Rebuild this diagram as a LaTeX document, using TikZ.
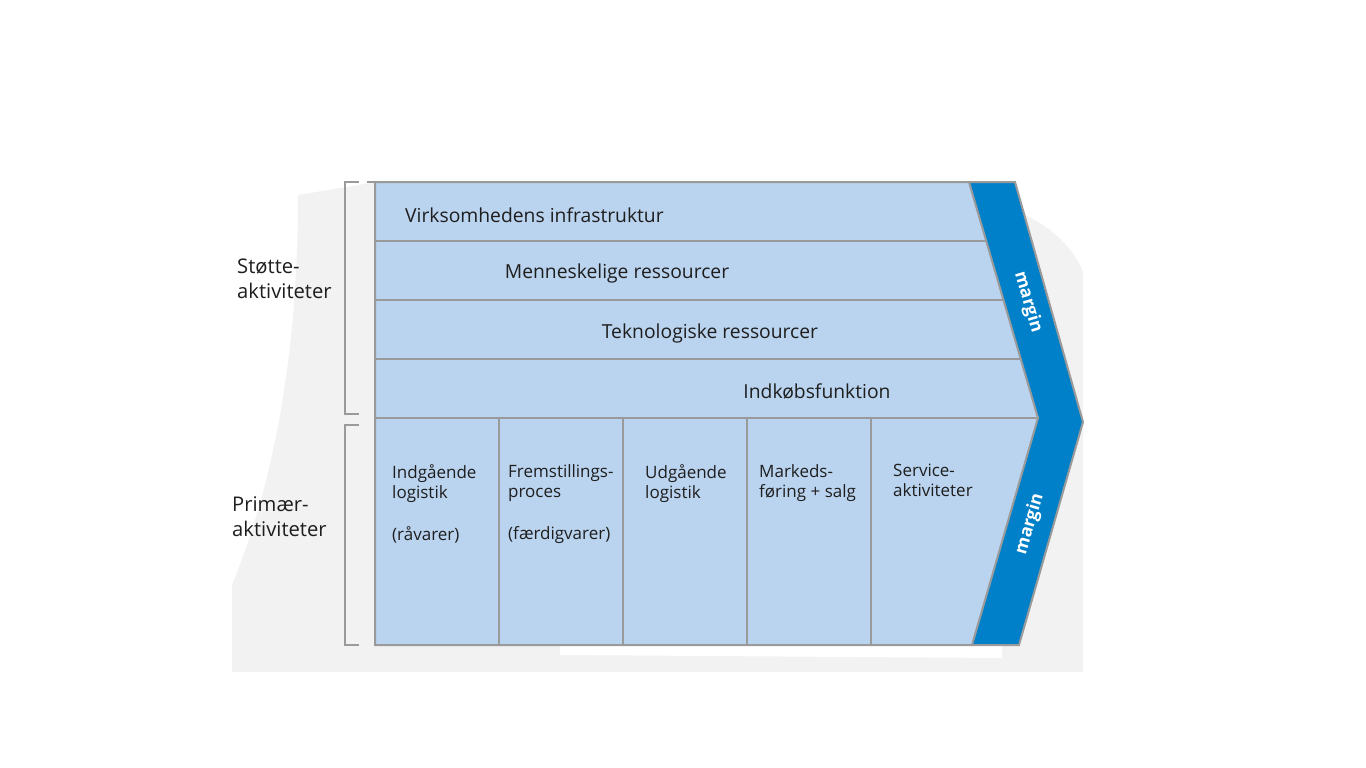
\documentclass[tikz,border=0pt]{standalone}
\usepackage{fontspec}
\setmainfont{Open Sans}
\definecolor{lightblue}{HTML}{BAD3EE}
\definecolor{darkblue}{HTML}{0080C9}
\definecolor{edgegray}{HTML}{9A9A9A}
\definecolor{paper}{HTML}{F2F2F2}
\definecolor{txt}{HTML}{1E1E1E}
\tikzset{
  edge/.style={draw=edgegray, line width=2pt, line join=miter},
  rowtext/.style={text=txt, font=\fontsize{19.3}{22}\selectfont, inner sep=0pt},
  coltext/.style={text=txt, font=\fontsize{17}{20}\selectfont, inner sep=0pt, align=left, anchor=north west},
  sidetext/.style={text=txt, font=\fontsize{20.2}{25}\selectfont, inner sep=0pt, align=left, anchor=north west},
  margintext/.style={text=white, font=\bfseries\fontsize{17.5}{20}\selectfont, inner sep=0pt},
  bracket/.style={draw=edgegray, line width=2pt}
}
\begin{document}
\begin{tikzpicture}[x=1pt,y=-1pt]
\useasboundingbox (0,0) rectangle (1366,768);
% paper background
\fill[paper] (298,195) -- (370,183) -- (1000,183) -- (1024,215)
  .. controls (1050,225) and (1075,250) .. (1083,272)
  -- (1083,672) -- (232,672) -- (232,585)
  .. controls (275,480) and (298,350) .. (298,195) -- cycle;
\fill[white] (560,646) -- (1002,645) -- (1002,658) -- (560,655) -- cycle;
% light blue body
\fill[lightblue] (375,182) -- (969,182) -- (1038,418) -- (972,645) -- (375,645) -- cycle;
% dark band
\fill[darkblue] (969,182) -- (1015,182) -- (1083,422) -- (1019,645) -- (972,645) -- (1038,418) -- cycle;
% outlines
\draw[edge] (1019,645) -- (375,645) -- (375,182) -- (1015,182) -- (1083,422) -- cycle;
\draw[edge] (969,182) -- (1038,418) -- (972,645);
\draw[edge] (367,182) -- (375,182);
\draw[edge] (375,241) -- (986.3,241);
\draw[edge] (375,300) -- (1003.5,300);
\draw[edge] (375,359) -- (1020.8,359);
\draw[edge] (375,418) -- (1038,418);
\foreach \x in {499,623,747,871} \draw[edge] (\x,418) -- (\x,645);
% brackets
\draw[bracket] (359,182) -- (345,182) -- (345,414) -- (359,414);
\draw[bracket] (359,425) -- (345,425) -- (345,645) -- (359,645);
% row texts
\node[rowtext, anchor=base west] (infra) at (405,222) {Virksomhedens infrastruktur};
\node[rowtext, anchor=base] (hr) at (617,278) {Menneskelige ressourcer};
\node[rowtext, anchor=base] (tech) at (710,338) {Teknologiske ressourcer};
\node[rowtext, anchor=base] (proc) at (817,398) {Indkøbsfunktion};
% column texts
\node[coltext] (c1) at (392,464) {Indgående\\logistik\\[22pt](råvarer)};
\node[coltext] (c2) at (508,464) {Fremstillings-\\proces\\[22pt](færdigvarer)};
\node[coltext] (c3) at (645,464) {Udgående\\logistik};
\node[coltext] (c4) at (759,464) {Markeds-\\føring + salg};
\node[coltext] (c5) at (893,464) {Service-\\aktiviteter};
% side labels
\node[sidetext] (stotte) at (237,259) {Støtte-\\aktiviteter};
\node[sidetext] (primaer) at (232,496) {Primær-\\aktiviteter};
% margin labels
\node[margintext, rotate=-73.7] (m1) at (1028,302) {margin};
\node[margintext, rotate=73.8] (m2) at (1030,524) {margin};
\end{tikzpicture}
\end{document}
